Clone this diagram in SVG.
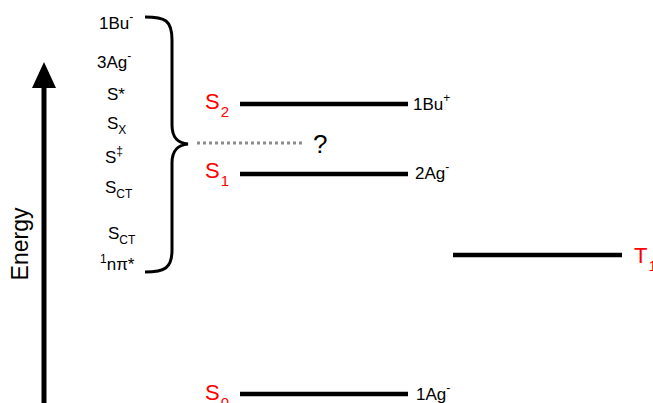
<svg xmlns="http://www.w3.org/2000/svg" width="653" height="403" viewBox="0 0 653 403">
<style>
text{font-family:"Liberation Sans",Arial,sans-serif;fill:#000}
.lab{font-size:17px}
.st{font-size:22px;fill:#ff0000}
.sub{font-size:15px}
.sm{font-size:12px}
.lvl{stroke:#000;stroke-width:4.5;fill:none}
</style>
<rect width="653" height="403" fill="#fff"/>
<g id="axis">
<line x1="44" y1="403" x2="44" y2="86" stroke="#000" stroke-width="5"/>
<polygon points="44,62 32,88 56,88" fill="#000"/>
<text x="0" y="0" transform="translate(28,244) rotate(-90)" text-anchor="middle" font-size="23">Energy</text>
</g>
<g id="left-labels">
<text class="lab" x="99" y="29">1Bu<tspan class="sm" dy="-8">-</tspan></text>
<text class="lab" x="97" y="68">3Ag<tspan class="sm" dy="-8">-</tspan></text>
<text class="lab" x="107" y="100">S*</text>
<text class="lab" x="107" y="129">S<tspan class="sm" dy="5">X</tspan></text>
<text class="lab" x="105" y="163">S<tspan class="sm" dy="-8">‡</tspan></text>
<text class="lab" x="105" y="193">S<tspan class="sm" dy="5">CT</tspan></text>
<text class="lab" x="108" y="239">S<tspan class="sm" dy="5">CT</tspan></text>
<text class="lab" x="100" y="270"><tspan class="sm" dy="-7">1</tspan><tspan dy="7">nπ*</tspan></text>
</g>
<g id="brace">
<path d="M145,17 C165,17 172,20 172,40 L172,125 C172,138 178,143 188,144 C178,145 172,150 172,163 L172,250 C172,268 165,272 145,272" fill="none" stroke="#000" stroke-width="3"/>
</g>
<g id="connectors">
<line x1="197" y1="143" x2="304" y2="143" stroke="#8c8c8c" stroke-width="3" stroke-dasharray="3,3"/>
</g>
<g id="unknown">
<text x="313" y="153" font-size="26">?</text>
</g>
<g id="S2">
<line class="lvl" x1="240" y1="104" x2="408" y2="104"/>
<text class="st" x="205" y="109">S<tspan class="sub" dx="1" dy="8">2</tspan></text>
<text class="lab" x="413" y="110">1Bu<tspan class="sm" dy="-8">+</tspan></text>
</g>
<g id="S1">
<line class="lvl" x1="240" y1="174" x2="408" y2="174"/>
<text class="st" x="205" y="178">S<tspan class="sub" dx="1" dy="8">1</tspan></text>
<text class="lab" x="415" y="179">2Ag<tspan class="sm" dy="-8">-</tspan></text>
</g>
<g id="T1">
<line class="lvl" x1="453" y1="255" x2="622" y2="255"/>
<text class="st" x="634" y="263">T<tspan class="sub" dx="1" dy="8">1</tspan></text>
</g>
<g id="S0">
<line class="lvl" x1="240" y1="394" x2="408" y2="394"/>
<text class="st" x="205" y="400">S<tspan class="sub" dx="1" dy="8">0</tspan></text>
<text class="lab" x="416" y="400">1Ag<tspan class="sm" dy="-8">-</tspan></text>
</g>
</svg>
